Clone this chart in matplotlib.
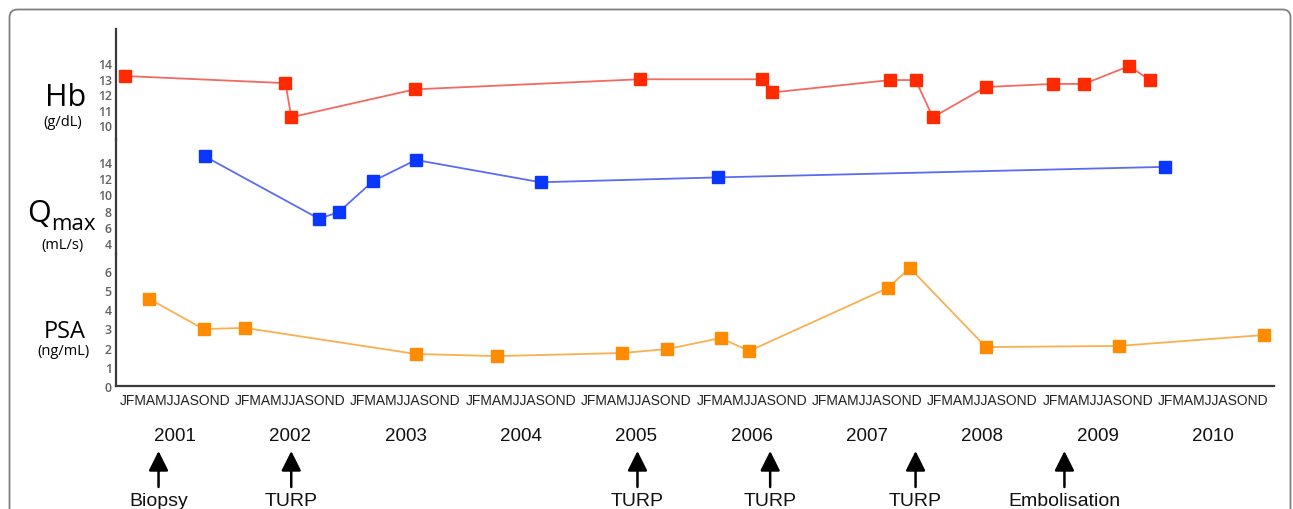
import matplotlib
matplotlib.use("Agg")
import matplotlib.pyplot as plt
from matplotlib.patches import FancyBboxPatch
from matplotlib.transforms import blended_transform_factory, IdentityTransform

# ---------------- data ----------------
hb_x = [2001.07, 2002.46, 2002.51, 2003.58, 2005.53, 2006.59, 2006.68, 2007.70,
        2007.92, 2008.07, 2008.53, 2009.11, 2009.38, 2009.77, 2009.95]
hb_y = [13.16, 12.7, 10.5, 12.3, 12.95, 12.95, 12.1, 12.9,
        12.9, 10.5, 12.45, 12.65, 12.65, 13.8, 12.9]

qmax_x = [2001.76, 2002.75, 2002.92, 2003.22, 2003.59, 2004.67, 2006.21, 2010.08]
qmax_y = [14.7, 7.0, 7.8, 11.65, 14.25, 11.5, 12.1, 13.4]

psa_x = [2001.28, 2001.75, 2002.11, 2003.59, 2004.29, 2005.38, 2005.77, 2006.23,
         2006.48, 2007.68, 2007.87, 2008.53, 2009.68, 2010.94]
psa_y = [4.54, 2.97, 3.03, 1.67, 1.56, 1.72, 1.93, 2.50,
         1.83, 5.11, 6.16, 2.03, 2.09, 2.66]

hb_ticks = [10, 11, 12, 13, 14]
qmax_ticks = [4, 6, 8, 10, 12, 14]
psa_ticks = [0, 1, 2, 3, 4, 5, 6]

years = [2001, 2002, 2003, 2004, 2005, 2006, 2007, 2008, 2009, 2010]
month_letters = "JFMAMJJASOND"

event_x = [2001.36, 2002.51, 2005.51, 2006.66, 2007.92, 2009.21]
event_labels = ["Biopsy", "TURP", "TURP", "TURP", "TURP", "Embolisation"]

# ---------------- figure ----------------
W, H = 1293, 510
fig = plt.figure(figsize=(W / 100, H / 100), dpi=100)

def fx(px):
    return px / W

def fy(py):
    return 1 - py / H

x_left, x_right = 116, 1274
xlim = (2001 + (x_left - 117) / 115.4, 2001 + (x_right - 117) / 115.4)

def make_ax(top_px, bot_px, ylim):
    ax = fig.add_axes([fx(x_left), fy(bot_px), fx(x_right - x_left), (bot_px - top_px) / H])
    ax.set_xlim(*xlim)
    ax.set_ylim(*ylim)
    ax.patch.set_alpha(0)
    for s in ["top", "right", "bottom"]:
        ax.spines[s].set_visible(False)
    ax.spines["left"].set_color("#3a3a3a")
    ax.spines["left"].set_linewidth(1.6)
    ax.set_xticks([])
    ax.tick_params(axis="y", length=0, pad=3, labelsize=8.8, labelcolor="#606060")
    return ax

# pixel geometry -> limits
ax_hb = make_ax(30, 140, (10 - (140 - 126) / 15.5, 10 + (126 - 30) / 15.5))
ax_q = make_ax(140, 255, (4 - (255 - 244) / 8.1, 4 + (244 - 140) / 8.1))
ax_p = make_ax(255, 387, (0, (387 - 255) / 19.17))
ax_p.spines["bottom"].set_visible(True)
ax_p.spines["bottom"].set_color("#3a3a3a")
ax_p.spines["bottom"].set_linewidth(1.6)

ax_hb.set_yticks(hb_ticks)
ax_q.set_yticks(qmax_ticks)
ax_p.set_yticks(psa_ticks)
for ax in (ax_hb, ax_q, ax_p):
    for lab in ax.get_yticklabels():
        lab.set_fontfamily("Open Sans")
        lab.set_fontweight("semibold")

ms = 8.8
ax_hb.plot(hb_x, hb_y, color="#f26a60", lw=1.3, marker="s", ms=ms,
           mfc="#ff2a00", mec="#ff2a00", clip_on=False)
ax_q.plot(qmax_x, qmax_y, color="#5b6cf0", lw=1.3, marker="s", ms=ms,
          mfc="#0a37ff", mec="#0a37ff", clip_on=False)
ax_p.plot(psa_x, psa_y, color="#f8b050", lw=1.3, marker="s", ms=ms,
          mfc="#ff8c00", mec="#ff8c00", clip_on=False)

# ---------------- left labels ----------------
lab_font = "Open Sans"
fig.text(fx(66), fy(106), "Hb", fontsize=22, family=lab_font, ha="center", va="baseline")
fig.text(fx(63), fy(123), "(g/dL)", fontsize=10.5, family=lab_font, ha="center", va="center")
fig.text(fx(27), fy(222), "Q", fontsize=22, family=lab_font, ha="left", va="baseline")
fig.text(fx(51), fy(230), "max", fontsize=16, family=lab_font, ha="left", va="baseline")
fig.text(fx(63), fy(245), "(mL/s)", fontsize=10.5, family=lab_font, ha="center", va="center")
fig.text(fx(65), fy(332), "PSA", fontsize=17, family=lab_font, ha="center", va="center")
fig.text(fx(63), fy(352), "(ng/mL)", fontsize=10.5, family=lab_font, ha="center", va="center")

# ---------------- x labels ----------------
tr = blended_transform_factory(ax_p.transData, fig.transFigure)
for y in years:
    fig.text(y + 0.5, fy(401), month_letters, transform=tr, fontsize=10,
             family="Liberation Sans", ha="center", va="center", color="#222222")
    fig.text(y + 0.5, fy(437), str(y), transform=tr, fontsize=13.5,
             family="Liberation Sans", ha="center", va="center", color="#111111")

for ex, el in zip(event_x, event_labels):
    ax_p.annotate("", xy=(ex, fy(452)), xytext=(ex, fy(488)),
                  xycoords=tr, textcoords=tr,
                  arrowprops=dict(arrowstyle="-|>,head_length=0.6,head_width=0.3",
                                  lw=1.8, color="black", mutation_scale=20,
                                  shrinkA=0, shrinkB=0))
    fig.text(ex, fy(493), el, transform=tr, fontsize=14, family="Liberation Sans",
             ha="center", va="top", color="#111111")

# ---------------- outer frame ----------------
frame = FancyBboxPatch((9.5, -30), 1281, H - 10 + 30 - 0.5,
                       boxstyle="round,pad=0,rounding_size=8",
                       transform=IdentityTransform(), fill=False,
                       edgecolor="#808080", lw=1.3, clip_on=False)
fig.patches.append(frame)

fig.savefig("out.png", dpi=100)
